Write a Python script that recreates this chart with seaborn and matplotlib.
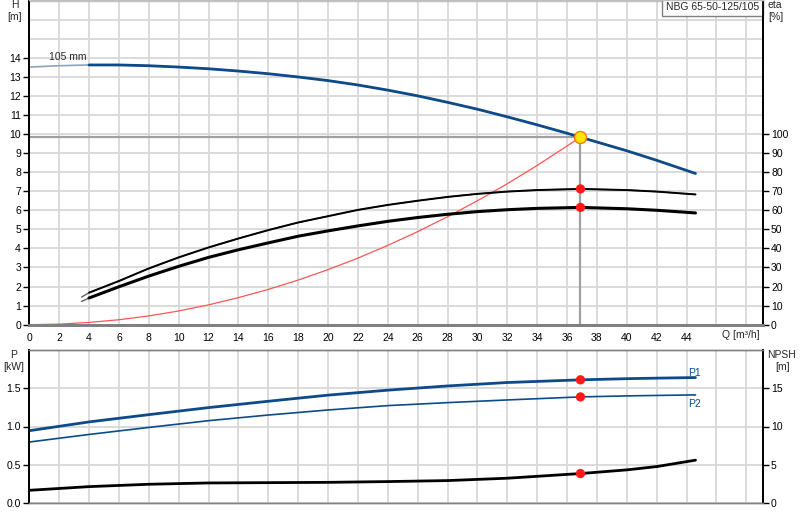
import pandas as pd
import seaborn as sns
import matplotlib.pyplot as plt

# --- values (NBG 65-50-125/105) ---
head_q = [0, 2, 4, 6, 8, 10, 12, 14, 16, 18, 20, 22, 24, 26, 28, 30, 32, 34, 36, 36.9, 38, 40, 42, 44.6]
head_h = [13.51, 13.58, 13.62, 13.62, 13.58, 13.51, 13.42, 13.3, 13.16, 12.99, 12.8, 12.57, 12.3,
          12.0, 11.66, 11.3, 10.9, 10.48, 10.04, 9.83, 9.58, 9.12, 8.62, 7.93]

eta_q = [3.5, 4, 6, 8, 10, 12, 14, 16, 18, 20, 22, 24, 26, 28, 30, 32, 34, 36.9, 40, 42, 44.6]
eta_pump = [14.5, 16.8, 22.9, 29.5, 35.3, 40.5, 45.2, 49.6, 53.6, 56.9, 60.2, 62.8, 65.0, 67.0,
            68.6, 69.8, 70.6, 71.2, 70.6, 69.8, 68.3]
eta_total = [12.2, 14.0, 19.9, 25.5, 30.6, 35.3, 39.3, 42.9, 46.4, 49.2, 51.8, 54.2, 56.2, 57.9,
             59.3, 60.3, 61.0, 61.5, 60.8, 60.0, 58.6]

sys_q = [0, 2, 4, 6, 8, 10, 12, 14, 16, 18, 20, 22, 24, 26, 28, 30, 32, 34, 36.9]
sys_h = [0, 0.03, 0.12, 0.26, 0.46, 0.72, 1.04, 1.42, 1.85, 2.34, 2.89, 3.49, 4.16, 4.88, 5.66,
         6.5, 7.39, 8.35, 9.83]

pow_q = [0, 4, 8, 12, 16, 20, 24, 28, 32, 36.9, 40, 42, 44.6]
p1 = [0.945, 1.06, 1.155, 1.247, 1.33, 1.41, 1.475, 1.53, 1.575, 1.61, 1.625, 1.632, 1.64]
p2 = [0.797, 0.896, 0.988, 1.076, 1.15, 1.216, 1.273, 1.312, 1.347, 1.387, 1.40, 1.406, 1.413]
npsh = [1.66, 2.14, 2.45, 2.62, 2.66, 2.70, 2.80, 2.93, 3.24, 3.85, 4.33, 4.76, 5.6]

duty_q, duty_h = 36.9, 9.83
duty_eta = [71.2, 61.5]
duty_p = [1.61, 1.387]
duty_npsh = 3.85

q_ticks = list(range(0, 49, 2))
q_labels = [str(t) if t <= 44 else '' for t in q_ticks]

head = pd.DataFrame({'Q': head_q, 'H': head_h})
eta = pd.DataFrame({'Q': eta_q, 'pump': eta_pump, 'total': eta_total})
syst = pd.DataFrame({'Q': sys_q, 'H': sys_h})
pw = pd.DataFrame({'Q': pow_q, 'P1': p1, 'P2': p2, 'NPSH': npsh})

sns.set_theme(style='white')
plt.rcParams['font.family'] = ['Liberation Sans', 'DejaVu Sans']
FS = 7.5
plt.rcParams['font.size'] = FS

BLUE = '#0e4a8a'
GRID = '#d8d8d8'

fig = plt.figure(figsize=(8, 5.2), dpi=100)
ax = fig.add_axes([29.3 / 800, 195.3 / 520, 733.4 / 800, 324.2 / 520])
ax_p = fig.add_axes([29.3 / 800, 17 / 520, 733.4 / 800, 153 / 520])

# --- upper chart: head / efficiency ---
for a in (ax, ax_p):
    a.set_xlim(0, 49.1)
    a.set_xticks(q_ticks)
    a.grid(True, which='both', color=GRID, lw=1.3)
    a.set_axisbelow(True)

ax.set_ylim(0, 17)
ax.set_yticks(range(15))
ax.set_yticks([15, 16, 17], minor=True)
ax.tick_params(axis='y', which='minor', length=0)
ax.set_xticklabels(q_labels)

ax.plot([0, duty_q], [duty_h, duty_h], color='#a0a0a0', lw=1.6, zorder=2)
ax.plot([duty_q, duty_q], [0, duty_h], color='#a0a0a0', lw=1.6, zorder=2)

sns.lineplot(data=syst, x='Q', y='H', ax=ax, color='#ff5555', lw=0.9, sort=False, estimator=None)
sns.lineplot(data=head, x='Q', y='H', ax=ax, color='#8da2bd', lw=1.2, sort=False, estimator=None)
sns.lineplot(data=head[head.Q >= 4], x='Q', y='H', ax=ax, color=BLUE, lw=2, sort=False, estimator=None)
ax.text(1.3, 13.75, '105 mm', fontsize=FS, va='bottom')
ax.set_xlabel('')
ax.set_ylabel('')

ax_e = ax.twinx()
ax_e.set_ylim(0, 170)
ax_e.set_yticks(range(0, 101, 10))
sns.lineplot(data=eta, x='Q', y='pump', ax=ax_e, color='#606060', lw=1.0, sort=False, estimator=None)
sns.lineplot(data=eta[eta.Q >= 4], x='Q', y='pump', ax=ax_e, color='black', lw=1.4, sort=False, estimator=None)
sns.lineplot(data=eta, x='Q', y='total', ax=ax_e, color='#606060', lw=1.0, sort=False, estimator=None)
sns.lineplot(data=eta[eta.Q >= 4], x='Q', y='total', ax=ax_e, color='black', lw=2.2, sort=False, estimator=None)
sns.scatterplot(x=[duty_q] * 2, y=duty_eta, ax=ax_e, color='#ff1a1a', s=45, edgecolor='none', zorder=5)
sns.scatterplot(x=[duty_q], y=[duty_h * 10], ax=ax_e, color='#ffe600', s=75,
                edgecolor='#ff7a00', linewidth=1, zorder=6)
ax_e.set_xlabel('')
ax_e.set_ylabel('')
ax_e.grid(False)

# --- lower chart: power / NPSH ---
ax_p.set_ylim(0, 2.0)
ax_p.set_yticks([0, 0.5, 1.0, 1.5])
ax_p.set_yticklabels(['0.0', '0.5', '1.0', '1.5'])
ax_p.set_xticklabels([])
ax_p.tick_params(axis='x', length=0)

sns.lineplot(data=pw, x='Q', y='P1', ax=ax_p, color=BLUE, lw=2, sort=False, estimator=None)
sns.lineplot(data=pw, x='Q', y='P2', ax=ax_p, color=BLUE, lw=1.2, sort=False, estimator=None)
sns.scatterplot(x=[duty_q] * 2, y=duty_p, ax=ax_p, color='#ff1a1a', s=45, edgecolor='none', zorder=5)
ax_p.text(44.1, 1.70, 'P1', color=BLUE, fontsize=FS, va='center')
ax_p.text(44.1, 1.30, 'P2', color=BLUE, fontsize=FS, va='center')
ax_p.set_xlabel('')
ax_p.set_ylabel('')

ax_n = ax_p.twinx()
ax_n.set_ylim(0, 20)
ax_n.set_yticks([0, 5, 10, 15])
sns.lineplot(data=pw, x='Q', y='NPSH', ax=ax_n, color='black', lw=2, sort=False, estimator=None)
sns.scatterplot(x=[duty_q], y=[duty_npsh], ax=ax_n, color='#ff1a1a', s=45, edgecolor='none', zorder=5)
ax_n.set_xlabel('')
ax_n.set_ylabel('')
ax_n.grid(False)

# --- frames and ticks ---
for a in (ax, ax_e, ax_p, ax_n):
    a.tick_params(axis='both', which='major', direction='out', length=4, width=1, color='black',
                  labelsize=FS, labelcolor='black', pad=2)
    for s in a.spines.values():
        s.set_color('#808080')
        s.set_linewidth(1)
    a.spines['left'].set_color('black')
    a.spines['right'].set_color('black')
    a.spines['left'].set_linewidth(1.3)
    a.spines['right'].set_linewidth(1.3)
for a in (ax, ax_e):
    a.spines['bottom'].set_linewidth(2)
    a.spines['top'].set_color('#c0c0c0')

# --- axis captions ---
fig.text(15 / 800, 1 - 5 / 520, 'H', ha='center', va='center', fontsize=FS)
fig.text(15 / 800, 1 - 17.5 / 520, '[m]', ha='center', va='center', fontsize=FS)
fig.text(768 / 800, 1 - 5 / 520, 'eta', ha='left', va='center', fontsize=FS)
fig.text(768 / 800, 1 - 17.5 / 520, '[%]', ha='left', va='center', fontsize=FS)
fig.text(722 / 800, 1 - 335 / 520, 'Q [m³/h]', ha='left', va='center', fontsize=FS)
fig.text(14 / 800, 1 - 355 / 520, 'P', ha='center', va='center', fontsize=FS)
fig.text(14 / 800, 1 - 367 / 520, '[kW]', ha='center', va='center', fontsize=FS)
fig.text(767 / 800, 1 - 355 / 520, 'NPSH', ha='left', va='center', fontsize=FS)
fig.text(775 / 800, 1 - 367 / 520, '[m]', ha='left', va='center', fontsize=FS)

ax.text(0.995, 0.995, 'NBG 65-50-125/105', transform=ax.transAxes, ha='right', va='top',
        fontsize=FS, zorder=10,
        bbox=dict(boxstyle='square,pad=0.35', fc='white', ec='#808080', lw=1))

fig.savefig('out.png', dpi=100)
